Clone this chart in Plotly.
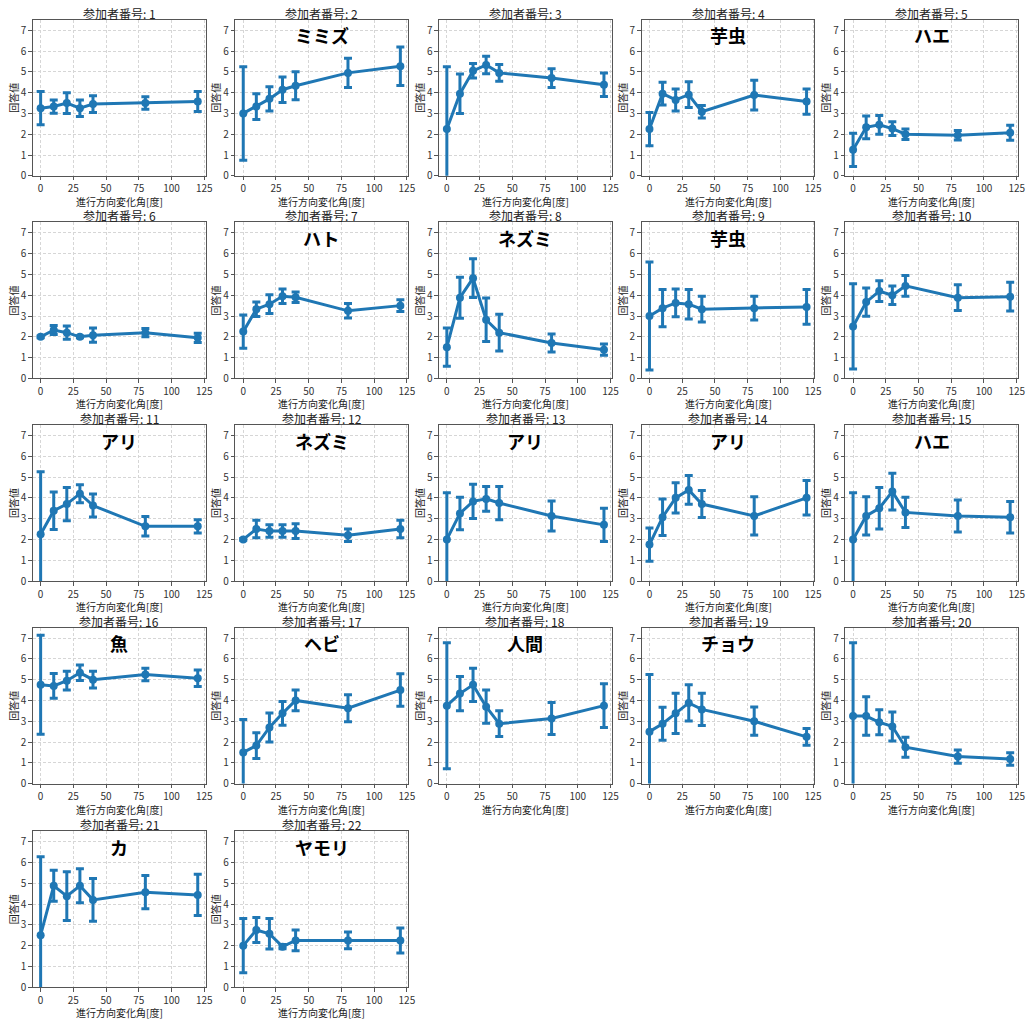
import plotly.graph_objects as go

angles = [0, 10, 20, 30, 40, 80, 120]

participants = list(range(1, 23))

labels = ["", "ミミズ", "", "芋虫", "ハエ", "", "ハト", "ネズミ", "芋虫", "",
          "アリ", "ネズミ", "アリ", "アリ", "ハエ", "魚", "ヘビ", "人間", "チョウ", "",
          "カ", "ヤモリ"]

means = [
    [3.25, 3.33, 3.50, 3.25, 3.45, 3.50, 3.57],
    [3.00, 3.33, 3.70, 4.14, 4.33, 4.95, 5.27],
    [2.25, 3.95, 5.05, 5.33, 4.95, 4.70, 4.38],
    [2.25, 3.95, 3.65, 3.90, 3.08, 3.88, 3.57],
    [1.25, 2.33, 2.45, 2.27, 2.00, 1.95, 2.07],
    [2.00, 2.33, 2.20, 2.00, 2.08, 2.20, 1.95],
    [2.25, 3.33, 3.57, 3.95, 3.90, 3.25, 3.50],
    [1.50, 3.88, 4.82, 2.82, 2.20, 1.70, 1.38],
    [3.00, 3.38, 3.63, 3.57, 3.33, 3.38, 3.44],
    [2.50, 3.67, 4.20, 4.00, 4.45, 3.88, 3.93],
    [2.25, 3.38, 3.70, 4.20, 3.63, 2.63, 2.63],
    [2.00, 2.50, 2.40, 2.40, 2.40, 2.20, 2.50],
    [2.00, 3.25, 3.83, 3.95, 3.75, 3.13, 2.70],
    [1.75, 3.07, 4.00, 4.38, 3.70, 3.13, 4.00],
    [2.00, 3.13, 3.50, 4.30, 3.30, 3.13, 3.07],
    [4.75, 4.70, 4.95, 5.33, 5.00, 5.25, 5.07],
    [1.50, 1.83, 2.70, 3.38, 4.00, 3.63, 4.50],
    [3.75, 4.33, 4.75, 3.70, 2.88, 3.13, 3.75],
    [2.50, 2.88, 3.38, 3.88, 3.57, 3.00, 2.25],
    [3.25, 3.25, 2.95, 2.75, 1.75, 1.30, 1.18],
    [2.50, 4.88, 4.38, 4.88, 4.20, 4.57, 4.44],
    [2.00, 2.75, 2.57, 1.95, 2.25, 2.25, 2.25],
]

errors = [
    [0.80, 0.32, 0.50, 0.40, 0.40, 0.30, 0.48],
    [2.25, 0.62, 0.58, 0.61, 0.67, 0.70, 0.93],
    [3.00, 0.95, 0.35, 0.42, 0.40, 0.45, 0.57],
    [0.80, 0.55, 0.53, 0.62, 0.30, 0.72, 0.61],
    [0.80, 0.55, 0.45, 0.33, 0.25, 0.23, 0.36],
    [0.04, 0.22, 0.32, 0.04, 0.34, 0.20, 0.22],
    [0.80, 0.35, 0.45, 0.35, 0.25, 0.35, 0.28],
    [0.92, 0.99, 0.93, 1.05, 0.88, 0.43, 0.27],
    [2.60, 0.90, 0.67, 0.71, 0.62, 0.57, 0.84],
    [2.05, 0.68, 0.50, 0.45, 0.50, 0.62, 0.69],
    [3.00, 0.90, 0.80, 0.43, 0.55, 0.47, 0.32],
    [0.04, 0.42, 0.30, 0.30, 0.35, 0.30, 0.42],
    [2.25, 0.78, 0.82, 0.60, 0.80, 0.72, 0.80],
    [0.80, 0.88, 0.73, 0.69, 0.65, 0.92, 0.83],
    [2.25, 0.92, 1.00, 0.88, 0.73, 0.77, 0.76],
    [2.38, 0.60, 0.45, 0.37, 0.40, 0.30, 0.40],
    [1.58, 0.62, 0.70, 0.57, 0.50, 0.65, 0.78],
    [3.03, 0.82, 0.80, 0.80, 0.62, 0.77, 1.05],
    [2.75, 0.79, 0.97, 0.87, 0.78, 0.68, 0.40],
    [3.53, 0.93, 0.60, 0.70, 0.48, 0.32, 0.30],
    [3.78, 0.74, 1.17, 0.82, 1.03, 0.80, 0.99],
    [1.30, 0.60, 0.73, 0.10, 0.50, 0.40, 0.60],
]

x_ticks = [0, 25, 50, 75, 100, 125]
y_ticks = [0, 1, 2, 3, 4, 5, 6, 7]
title_fmt = "参加者番号: {}"
x_title = "進行方向変化角[度]"
y_title = "回答値"

W, H = 1030, 1025
col_left = [33, 237, 442, 646, 851]
row_top = [20, 224, 428, 632, 837]
ax_w, ax_h = 174, 157

FONT = "Noto Sans CJK JP"
BLUE = "#1f77b4"

fig = go.Figure()
annotations = []

for i, p in enumerate(participants):
    r, c = divmod(i, 5)
    n = i + 1
    xa = "x" if n == 1 else f"x{n}"
    ya = "y" if n == 1 else f"y{n}"
    x0 = col_left[c] / W
    x1 = (col_left[c] + ax_w) / W
    y1 = 1 - row_top[r] / H
    y0 = 1 - (row_top[r] + ax_h) / H

    fig.add_trace(go.Scatter(
        x=angles, y=means[i], xaxis=xa, yaxis=ya,
        mode="lines+markers",
        line=dict(color=BLUE, width=3),
        marker=dict(color=BLUE, size=8),
        error_y=dict(type="data", array=errors[i], visible=True,
                     color=BLUE, thickness=3, width=4),
        showlegend=False, hoverinfo="x+y",
    ))

    axis_common = dict(
        showline=True, linecolor="#555555", linewidth=1, mirror=True,
        showgrid=True, gridcolor="#d6d6d6", griddash="3px,2px", gridwidth=1,
        zeroline=False, ticks="outside", ticklen=3.5, tickcolor="#555555",
        tickfont=dict(family=FONT, size=10, color="#333333"),
    )
    fig.layout[("xaxis" if n == 1 else f"xaxis{n}")] = dict(
        domain=[x0, x1], anchor=ya, range=[-6, 126],
        tickvals=x_ticks,
        **axis_common,
    )
    fig.layout[("yaxis" if n == 1 else f"yaxis{n}")] = dict(
        domain=[y0, y1], anchor=xa, range=[0, 7.5],
        tickvals=y_ticks,
        title=dict(text=y_title, font=dict(family=FONT, size=10, color="#222222"), standoff=0),
        **axis_common,
    )

    annotations.append(dict(
        text=title_fmt.format(p), x=(x0 + x1) / 2, y=y1, xref="paper", yref="paper",
        xanchor="center", yanchor="bottom", yshift=-4, showarrow=False,
        font=dict(family=FONT, size=12, color="#222222"),
    ))
    annotations.append(dict(
        text=x_title, x=(x0 + x1) / 2, y=y0, xref="paper", yref="paper",
        xanchor="center", yanchor="top", yshift=-16, showarrow=False,
        font=dict(family=FONT, size=10, color="#222222"),
    ))
    if labels[i]:
        annotations.append(dict(
            text=f"<b>{labels[i]}</b>", x=60, y=6.75, xref=xa, yref=ya,
            xanchor="center", yanchor="middle", showarrow=False,
            font=dict(family=FONT, size=18, color="#000000"),
        ))

fig.update_layout(
    width=W, height=H,
    margin=dict(l=0, r=0, t=0, b=0),
    paper_bgcolor="white", plot_bgcolor="white",
    annotations=annotations,
    font=dict(family=FONT),
)

fig.write_html("out.html", config={"displayModeBar": False},
               post_script="document.body.style.margin='0';document.body.style.overflow='hidden';")
